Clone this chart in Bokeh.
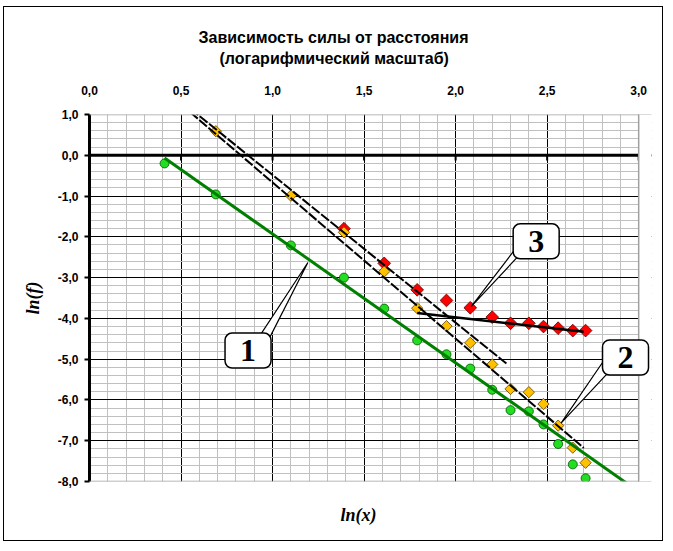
import numpy as np
from bokeh.plotting import figure
from bokeh.models import (Range1d, SingleIntervalTicker, CustomJSTickFormatter,
                          Span, Label, Title, BoxAnnotation)
from bokeh.embed import file_html
from bokeh.resources import INLINE

# ---- data ----
x1 = [0.41, 0.69, 1.10, 1.39, 1.61, 1.79, 1.95, 2.08, 2.20, 2.30, 2.40, 2.48, 2.56, 2.64, 2.71]
y1 = [-0.20, -0.96, -2.21, -3.00, -3.76, -4.54, -4.88, -5.23, -5.75, -6.25, -6.28, -6.60, -7.08, -7.58, -7.92]

x2 = [0.69, 1.10, 1.39, 1.61, 1.79, 1.95, 2.08, 2.20, 2.30, 2.40, 2.48, 2.56, 2.64, 2.71]
y2 = [0.59, -0.99, -1.89, -2.85, -3.75, -4.19, -4.60, -5.13, -5.73, -5.81, -6.10, -6.63, -7.17, -7.54]

x3 = [1.39, 1.61, 1.79, 1.95, 2.08, 2.20, 2.30, 2.40, 2.48, 2.56, 2.64, 2.71]
y3 = [-1.80, -2.65, -3.30, -3.56, -3.74, -3.97, -4.12, -4.12, -4.20, -4.24, -4.30, -4.30]

# trend lines: (intercept, slope, x_start, x_end)
trend1 = (1.23, -3.16, 0.41, 2.95)      # green, series 1
trend2 = (3.164, -3.83, 0.50, 2.70)     # dashed, series 2
trend3a = (3.136, -3.62, 0.50, 2.28)    # dashed, series 3 (near part)
trend3b = (-2.975, -0.50, 1.79, 2.70)   # series 3 (far part)

x_tick_values = [0.5, 1.0, 1.5, 2.0, 2.5, 3.0]
x_min, x_max, y_min, y_max = 0.0, 3.0, -8.0, 1.0

# callouts: label, box centre (x, y), pointer tip (x, y), pointer base offsets (dx1, dx2)
callout_text = ["1", "3", "2"]
callout_x = [0.866, 2.44, 2.928]
callout_y = [-4.79, -2.11, -4.96]
tip_x = [1.193, 2.085, 2.576]
tip_y = [-2.63, -3.71, -6.57]
base_dx = [(0.011, 0.082), (-0.082, -0.022), (-0.107, -0.018)]

title1 = "Зависимость силы от расстояния"
title2 = "(логарифмический масштаб)"
x_title = "ln(x)"
y_title = "ln(f)"

# ---- figure ----
# the x range is slightly wider than the plotted area so that callout "2" can stick out
p = figure(width=660, height=535, x_range=Range1d(x_min, 3.07), y_range=Range1d(y_min, y_max),
           x_axis_location="above", output_backend="svg", toolbar_location=None,
           title=None, min_border_left=85, min_border_right=13,
           min_border_top=107, min_border_bottom=61)
p.background_fill_color = "white"
p.border_fill_color = "white"
p.outline_line_color = None
p.styles = {"border": "1px solid black", "margin-left": "3px", "margin-top": "6px"}

fmt = CustomJSTickFormatter(code="return tick.toFixed(1).replace('.', ',');")

xa = p.xaxis[0]
xa.ticker = SingleIntervalTicker(interval=0.5, num_minor_ticks=5)
xa.formatter = fmt
xa.axis_line_color = None
xa.major_tick_line_color = None
xa.minor_tick_line_color = None
xa.major_label_standoff = 14
xa.major_label_text_font = "Liberation Sans"
xa.major_label_text_font_style = "bold"
xa.major_label_text_font_size = "12px"
xa.major_label_text_color = "black"

ya = p.yaxis[0]
ya.ticker = SingleIntervalTicker(interval=1, num_minor_ticks=5)
ya.formatter = fmt
ya.axis_line_width = 3
ya.axis_line_color = "black"
ya.major_tick_out = 5
ya.major_tick_in = 0
ya.major_tick_line_width = 2
ya.minor_tick_line_color = None
ya.major_label_standoff = 6
ya.major_label_text_font = "Liberation Sans"
ya.major_label_text_font_style = "bold"
ya.major_label_text_font_size = "12px"
ya.major_label_text_color = "black"
ya.axis_label = y_title
ya.axis_label_text_font = "Liberation Serif"
ya.axis_label_text_font_style = "bold italic"
ya.axis_label_text_font_size = "18px"
ya.axis_label_text_color = "black"
ya.axis_label_standoff = 12

# x-axis title below the plot (with a blank spacer between it and the frame)
p.add_layout(Title(text="\u00a0", text_font_size="10px", standoff=8), "below")
p.add_layout(Title(text=x_title, align="left", offset=251, text_font="Liberation Serif",
                   text_font_style="bold italic", text_font_size="18px",
                   text_color="black", standoff=0), "below")

for g in (p.xgrid[0], p.ygrid[0]):
    g.grid_line_color = "black"
    g.grid_line_width = 1
    g.minor_grid_line_color = "#c0c0c0"
    g.minor_grid_line_width = 1

# chart title (blank spacer between axis labels and the title lines)
p.add_layout(Title(text="\u00a0", text_font_size="8px", standoff=4), "above")
p.add_layout(Title(text=title2, align="left", offset=130, text_font="Liberation Sans",
                   text_font_style="bold", text_font_size="16px", text_color="black",
                   standoff=2), "above")
p.add_layout(Title(text=title1, align="left", offset=109, text_font="Liberation Sans",
                   text_font_style="bold", text_font_size="16px", text_color="black",
                   standoff=2), "above")

# plot-area border (top / bottom) and zero line
p.add_layout(Span(location=y_max, dimension="width", line_color="#a0a0a0", line_width=1.5))
p.add_layout(Span(location=y_min, dimension="width", line_color="#a0a0a0", line_width=1.5))
p.add_layout(Span(location=0, dimension="width", line_color="black", line_width=3))
# hide the spare strip right of 3.0
p.add_layout(BoxAnnotation(left=x_max, fill_color="white", fill_alpha=1.0,
                           line_color=None, level="annotation"))
p.add_layout(Span(location=x_max, dimension="height", line_color="#a0a0a0", line_width=1.5))

p.segment(x0=x_tick_values, y0=[0] * len(x_tick_values), x1=x_tick_values,
          y1=[-0.13] * len(x_tick_values), line_color="black", line_width=2)

# markers
p.scatter(x3, y3, marker="square", angle=np.pi / 4, size=9, fill_color="#ff0000",
          line_color="#600000", line_width=0.8)
p.scatter(x2, y2, marker="square", angle=np.pi / 4, size=8, fill_color="#ffc000",
          line_color="#604000", line_width=0.8)
p.scatter(x1, y1, marker="circle", size=9, fill_color="#22dd22",
          line_color="#005500", line_width=0.8)

def trend(t):
    a, b, xs, xe = t
    xx = np.array([xs, xe])
    return xx, a + b * xx

tx, ty = trend(trend2)
p.line(tx, ty, line_color="black", line_width=2, line_dash="10 2")
tx, ty = trend(trend3a)
p.line(tx, ty, line_color="black", line_width=2, line_dash="10 2")
tx, ty = trend(trend3b)
p.line(tx, ty, line_color="black", line_width=2.5)
tx, ty = trend(trend1)
p.line(tx, ty, line_color="#008000", line_width=3)

# callouts
pxs, pys = [], []
for cx, cy, tx_, ty_, (d1, d2) in zip(callout_x, callout_y, tip_x, tip_y, base_dx):
    pxs.append([cx + d1, tx_, cx + d2])
    pys.append([cy, ty_, cy])
p.patches(pxs, pys, fill_color="white", line_color="black", line_width=1.2)

for t, cx, cy in zip(callout_text, callout_x, callout_y):
    p.add_layout(Label(x=cx, y=cy, text=t, text_align="center", text_baseline="middle",
                       text_font="Liberation Serif", text_font_style="bold",
                       text_font_size="32px", text_color="black",
                       background_fill_color="white", border_line_color="black",
                       border_line_width=1.5, padding=(15, 7), border_radius=7))

open("out.html", "w").write(file_html(p, INLINE))
